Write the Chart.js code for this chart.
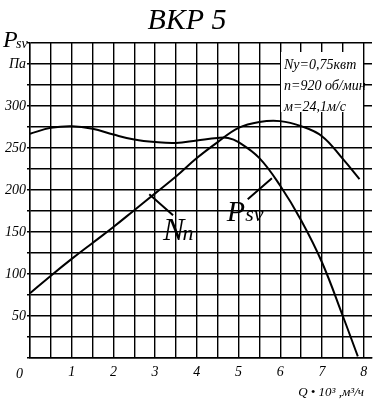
<!DOCTYPE html>
<html>
<head>
<meta charset="utf-8">
<script src="https://cdn.jsdelivr.net/npm/chart.js@4"></script>
<style>
  body { margin: 0; background: #fff; }
  canvas { display: block; }
</style>
</head>
<body>
<canvas id="canvasGrafica" width="380" height="400"></canvas>
<script>
// curva de presion Psv (Па) vs caudal Q (x 10^3 m3/h)
var qPresion = [0, 0.5, 1, 1.5, 2, 2.5, 3, 3.5, 4, 4.5, 4.75, 5, 5.5, 6, 6.5, 7, 7.5, 7.86];
var psv = [267, 274, 276, 273, 266, 260, 257, 256, 259, 262, 262, 257, 238, 205, 164, 114, 50, 2];

// curva de potencia Nn
var qPotencia = [0, 0.5, 1, 1.5, 2, 2.5, 3, 3.5, 4, 4.5, 5, 5.5, 6, 6.5, 7, 7.5, 7.9];
var nn = [77, 98, 118, 137, 156, 176, 196, 216, 238, 257, 274, 281, 282, 276, 264, 237, 213];

// lineas que señalan las curvas
var flechaNn = [[2.86, 195], [3.43, 170]];
var flechaPsv = [[5.80, 214], [5.22, 189]];

var titulo = "ВКР 5";
var datosMotor = ["Ny=0,75квт", "n=920 об/мин", "м=24,1м/с"];
var etiquetaEjeX = "Q • 10³ ,м³/ч";

var serif = "'Liberation Serif', 'DejaVu Serif', serif";

function puntos(xs, ys) {
  var out = [];
  for (var i = 0; i < xs.length; i++) {
    out.push({ x: xs[i], y: ys[i] });
  }
  return out;
}

function puntosPar(arr) {
  return arr.map(function (p) { return { x: p[0], y: p[1] }; });
}

var serie = {
  type: "line",
  borderColor: "#000",
  borderWidth: 2,
  pointRadius: 0,
  showLine: true,
  fill: false,
  tension: 0.4
};

var textos = {
  id: "textos",
  afterDraw: function (chart) {
    var c = chart.ctx;
    var sx = chart.scales.x;
    var sy = chart.scales.y;
    c.save();
    c.fillStyle = "#000";
    c.textBaseline = "alphabetic";

    // titulo
    c.font = "italic 30px " + serif;
    c.textAlign = "center";
    c.fillText(titulo, 187, 29);

    // Psv arriba a la izquierda
    c.textAlign = "left";
    c.font = "italic 24px " + serif;
    c.fillText("P", 3, 47);
    c.font = "italic 14px " + serif;
    c.fillText("sv", 16, 48);

    // cero del eje x
    c.font = "italic 14px " + serif;
    c.fillText("0", 16, 378);

    // eje Q
    c.font = "italic 13px " + serif;
    c.textAlign = "right";
    c.fillText(etiquetaEjeX, 364, 396);

    // cuadro con datos del motor
    c.fillStyle = "#fff";
    c.fillRect(281, 52, 82, 60);
    c.fillStyle = "#000";
    c.textAlign = "left";
    c.font = "italic 14px " + serif;
    for (var i = 0; i < datosMotor.length; i++) {
      c.fillText(datosMotor[i], 284, 69 + i * 21);
    }

    // etiqueta Nn
    var x1 = sx.getPixelForValue(3.19);
    var y1 = sy.getPixelForValue(141);
    c.font = "italic 32px " + serif;
    c.fillText("N", x1, y1);
    var w = c.measureText("N").width;
    c.font = "italic 22px " + serif;
    c.fillText("n", x1 + w - 2, y1);

    // etiqueta Psv
    var x2 = sx.getPixelForValue(4.72);
    var y2 = sy.getPixelForValue(163);
    c.font = "italic 30px " + serif;
    c.fillText("P", x2, y2);
    w = c.measureText("P").width;
    c.font = "italic 22px " + serif;
    c.fillText("sv", x2 + w, y2);

    c.restore();
  }
};

var ctx = document.getElementById("canvasGrafica").getContext("2d");

window.myChart = new Chart(ctx, {
  type: "scatter",
  data: {
    datasets: [
      Object.assign({ label: "Psv", data: puntos(qPresion, psv) }, serie),
      Object.assign({ label: "Nn", data: puntos(qPotencia, nn) }, serie),
      Object.assign({ label: "flechaNn", data: puntosPar(flechaNn) }, serie),
      Object.assign({ label: "flechaPsv", data: puntosPar(flechaPsv) }, serie)
    ]
  },
  options: {
    responsive: false,
    devicePixelRatio: 1,
    animation: false,
    layout: { padding: { top: 43, right: 8, left: 0, bottom: 0 } },
    plugins: {
      legend: { display: false },
      title: { display: false },
      tooltip: { enabled: false }
    },
    scales: {
      x: {
        type: "linear",
        min: 0,
        max: 8.2,
        afterFit: function (scale) { scale.height = 42; },
        ticks: {
          stepSize: 0.5,
          includeBounds: false,
          autoSkip: false,
          maxRotation: 0,
          padding: 6,
          color: "#000",
          font: { family: serif, size: 14, style: "italic" },
          callback: function (v) {
            var r = Math.round(v);
            if (r === 0 || Math.abs(v - r) > 0.01) return "";
            return String(r);
          }
        },
        grid: { color: "#000", lineWidth: 1.4, drawTicks: false },
        border: { color: "#000", width: 1.4 }
      },
      y: {
        type: "linear",
        min: 0,
        max: 375,
        afterFit: function (scale) { scale.width = 30; },
        ticks: {
          stepSize: 25,
          autoSkip: false,
          padding: 1,
          color: "#000",
          font: { family: serif, size: 14, style: "italic" },
          callback: function (v) {
            if (v === 350) return "Па";
            if (v > 0 && v <= 300 && v % 50 === 0) return String(v);
            return "";
          }
        },
        grid: { color: "#000", lineWidth: 1.4, tickLength: 3 },
        border: { color: "#000", width: 1.4 }
      }
    }
  },
  plugins: [textos]
});
</script>
</body>
</html>
